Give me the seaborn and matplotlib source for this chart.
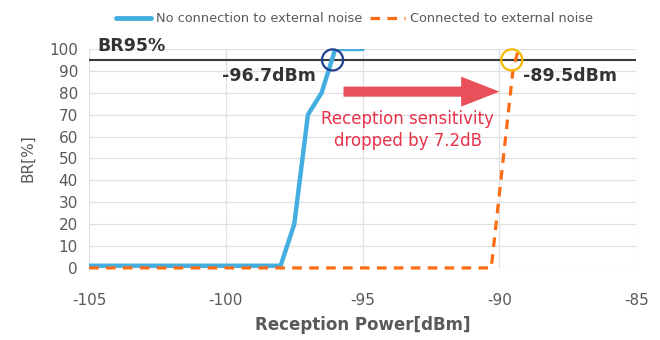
import matplotlib
matplotlib.use("Agg")
import matplotlib.pyplot as plt
import seaborn as sns
import pandas as pd
from matplotlib.lines import Line2D

# ---- data ----
power_no_noise = [-105, -98.0, -97.5, -97.0, -96.5, -96.0, -95.0]
br_no_noise = [1, 1, 20, 70, 80, 100, 100]
power_noise = [-105, -90.3, -89.5, -89.3]
br_noise = [0, 0, 91, 100]
series_names = ["No connection to external noise", "Connected to external noise"]
x_ticks = [-105, -100, -95, -90, -85]
y_ticks = list(range(0, 101, 10))
threshold = 95
sens_no_noise = -96.1   # visual crossing of BR95 line
sens_noise = -89.55
sens_labels = ["-96.7dBm", "-89.5dBm"]

sns.set_theme(style="white")
plt.rcParams['font.family'] = ['DejaVu Sans']
plt.rcParams['axes.unicode_minus'] = False

fig = plt.figure(figsize=(6.6, 3.4), dpi=100)
ax = fig.add_axes([0.135, 0.212, 0.829, 0.644])

blue = "#45aee0"
orange = "#ff6b12"
gray = "#595959"

df1 = pd.DataFrame({"x": power_no_noise, "y": br_no_noise})
df2 = pd.DataFrame({"x": power_noise, "y": br_noise})
sns.lineplot(data=df1, x="x", y="y", ax=ax, color=blue)
line_blue = ax.lines[-1]
sns.lineplot(data=df2, x="x", y="y", ax=ax, color=orange)
line_orange = ax.lines[-1]
line_blue.set_linewidth(3.2)
line_blue.set_zorder(3)
line_orange.set_linewidth(2.3)
line_orange.set_linestyle((0, (3.0, 2.3)))
line_orange.set_zorder(4)
line_orange.set_clip_on(False)

ax.axhline(threshold, color="#3a3a3a", lw=1.5, zorder=2)

ax.set_xlim(-105, -85)
ax.set_ylim(0, 100)
ax.set_xticks(x_ticks)
ax.set_yticks(y_ticks)
ax.grid(True, color="#e0e0e0", lw=0.9)
for s in ax.spines.values():
    s.set_visible(False)
ax.tick_params(axis="both", colors=gray, labelsize=11, length=0, pad=8)
ax.tick_params(axis="x", pad=18)
ax.set_xlabel("Reception Power[dBm]", color=gray, fontsize=12, fontweight="bold", labelpad=6)
ax.set_ylabel("BR[%]", color=gray, fontsize=11, labelpad=10)

# circles at sensitivity points
ax.scatter([sens_no_noise], [threshold], s=230, facecolors="none",
           edgecolors="#1f3f8f", linewidths=1.6, zorder=5, clip_on=False)
ax.scatter([sens_noise], [threshold], s=230, facecolors="none",
           edgecolors="#f7b900", linewidths=1.6, zorder=5, clip_on=False)

ax.text(-104.7, 101.5, "BR95%", fontsize=12.5, color="#333333",
        fontweight="bold", va="center", ha="left", clip_on=False)
ax.text(-96.7, 87.5, sens_labels[0], fontsize=12.5, color="#333333",
        fontweight="bold", va="center", ha="right")
ax.text(-89.15, 87.5, sens_labels[1], fontsize=12.5, color="#333333",
        fontweight="bold", va="center", ha="left")

ax.arrow(-95.7, 80.5, 4.3, 0, width=4.6, head_width=13.7,
         head_length=1.4, length_includes_head=False, color="#e8505b",
         zorder=6, lw=0)
ax.text(-93.35, 63, "Reception sensitivity\ndropped by 7.2dB", fontsize=12,
        color="#e8334a", ha="center", va="center", linespacing=1.3)

handles = [Line2D([0], [0], color=blue, lw=3.5, solid_capstyle="round"),
           Line2D([0], [0], color=orange, lw=2.3, linestyle=(0, (3.0, 2.3)))]
fig.legend(handles, series_names, loc="center", bbox_to_anchor=(0.537, 0.945),
           ncol=2, frameon=False, fontsize=9.3, labelcolor=gray,
           handlelength=2.7, columnspacing=0.6, handletextpad=0.4)

fig.savefig("out.png", dpi=100)
